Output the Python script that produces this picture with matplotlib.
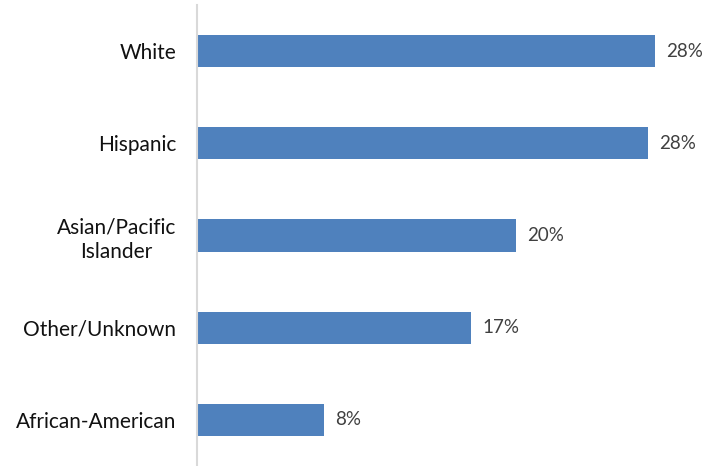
import matplotlib.pyplot as plt

groups = ["White", "Hispanic", "Asian/Pacific\nIslander", "Other/Unknown", "African-American"]
shares = [28.4, 27.95, 19.75, 17.0, 7.9]

plt.rcParams["font.family"] = ["Lato", "DejaVu Sans"]

fig = plt.figure(figsize=(7.19, 4.66), dpi=100)
W, H = 719, 466
ax = fig.add_axes([197 / W, 0, (700 - 197) / W, (466 - 5) / H])

pos = range(len(groups))
ax.barh(pos, shares, height=0.35, color="#4F81BD", zorder=2)

for y, v in zip(pos, shares):
    ax.annotate(f"{v:.0f}%", (v, y), xytext=(8, 0), textcoords="offset points",
                va="center", ha="left", fontsize=13.5, color="#404040")

ax.set_xlim(0, (700 - 198) / 16.1)
ax.set_ylim(len(groups) - 0.5, -0.5)
ax.set_yticks(list(pos))
ax.set_yticklabels(groups, fontsize=15, color="#111111", linespacing=1.25,
                   multialignment="center")
ax.tick_params(axis="y", length=0, pad=15)
ax.set_xticks([])

for side in ["top", "right", "bottom"]:
    ax.spines[side].set_visible(False)
ax.spines["left"].set_color("#D9D9D9")
ax.spines["left"].set_linewidth(1.5)

fig.savefig("out.png", dpi=100)
